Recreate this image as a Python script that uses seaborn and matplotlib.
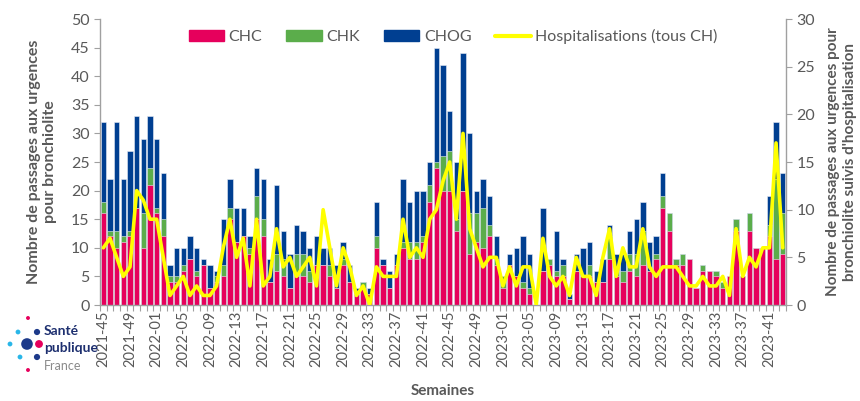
import numpy as np
import pandas as pd
import matplotlib
matplotlib.use("Agg")
import matplotlib.pyplot as plt
import seaborn as sns
from matplotlib.patches import Patch
from matplotlib.lines import Line2D
from matplotlib.ticker import FixedLocator

# semaines 2021-45 -> 2023-43
weeks = ([f"2021-{w:02d}" for w in range(45, 53)]
         + [f"2022-{w:02d}" for w in range(1, 53)]
         + [f"2023-{w:02d}" for w in range(1, 44)])

chc = [16, 12, 10, 11, 12, 17, 10, 21, 16, 12,
       4, 4, 6, 8, 5, 7, 3, 4, 5, 15,
       11, 12, 9, 15, 12, 4, 6, 5, 3, 5,
       5, 4, 7, 7, 5, 3, 7, 4, 2, 3,
       2, 10, 7, 3, 7, 10, 8, 8, 11, 18,
       24, 20, 20, 13, 20, 9, 11, 10, 12, 7,
       3, 7, 5, 3, 2, 0, 6, 7, 5, 5,
       1, 6, 5, 5, 4, 4, 8, 5, 4, 6,
       5, 7, 6, 8, 17, 13, 7, 7, 8, 3,
       6, 6, 5, 3, 5, 13, 5, 13, 10, 10,
       12, 8, 9]
chk = [2, 1, 3, 1, 1, 0, 6, 3, 1, 3,
       1, 1, 1, 0, 1, 0, 0, 1, 2, 2,
       0, 0, 1, 4, 3, 0, 3, 3, 0, 4,
       4, 2, 0, 0, 2, 0, 1, 0, 0, 1,
       0, 2, 0, 0, 0, 1, 3, 3, 1, 3,
       1, 6, 7, 2, 0, 7, 5, 7, 2, 1,
       2, 0, 0, 1, 1, 0, 0, 1, 1, 2,
       0, 0, 0, 2, 0, 0, 4, 1, 2, 3,
       4, 6, 0, 1, 2, 3, 1, 2, 0, 0,
       1, 0, 1, 1, 0, 2, 0, 3, 0, 0,
       2, 14, 7]
chog = [14, 9, 19, 10, 14, 16, 13, 9, 12, 8,
        2, 5, 3, 4, 4, 1, 4, 1, 8, 5,
        6, 5, 2, 5, 7, 4, 12, 5, 6, 5,
        4, 4, 5, 3, 3, 4, 3, 3, 1, 0,
        1, 6, 1, 3, 2, 11, 7, 9, 8, 4,
        20, 16, 7, 10, 24, 14, 4, 5, 5, 4,
        0, 2, 5, 8, 6, 0, 11, 0, 7, 1,
        1, 3, 5, 4, 2, 4, 2, 3, 3, 4,
        6, 5, 5, 3, 4, 0, 0, 0, 0, 0,
        0, 0, 0, 0, 0, 0, 0, 0, 0, 0,
        5, 10, 7]
hosp = [6, 7, 5, 3, 4, 12, 11, 9, 9, 5,
        1, 2, 3, 1, 2, 1, 1, 2, 6, 9,
        5, 7, 2, 9, 2, 3, 8, 4, 5, 3,
        4, 5, 2, 10, 6, 2, 6, 4, 1, 2,
        0, 4, 3, 3, 3, 9, 5, 6, 5, 9,
        10, 13, 15, 9, 18, 8, 6, 4, 5, 5,
        2, 4, 2, 4, 4, 0, 7, 3, 2, 3,
        1, 5, 3, 3, 1, 5, 8, 3, 6, 4,
        4, 8, 4, 3, 4, 4, 4, 3, 2, 2,
        3, 2, 2, 3, 1, 8, 3, 5, 4, 6,
        6, 17, 6]

df = pd.DataFrame({"semaine": weeks, "CHC": chc, "CHK": chk, "CHOG": chog, "hosp": hosp})
df["chc_chk"] = df["CHC"] + df["CHK"]
df["total"] = df["chc_chk"] + df["CHOG"]

pink = "#E6005C"
green = "#5BAD4B"
blue = "#003F91"
yellow = "#FFFF00"
grey_txt = "#595959"
grey_ax = "#A0A0A0"

sns.set_style("white")
plt.rcParams['font.family'] = ['Lato', 'DejaVu Sans']

fig, ax = plt.subplots(figsize=(8.6, 4.01), dpi=100)
fig.subplots_adjust(left=0.1163, right=0.914, bottom=0.2394, top=0.9526)

# stacked look by layering cumulative bars
for col, c in [("total", blue), ("chc_chk", green), ("CHC", pink)]:
    sns.barplot(data=df, x="semaine", y=col, color=c, saturation=1, width=0.8,
                errorbar=None, ax=ax, edgecolor="#E8ECF4", linewidth=0.4)

ax2 = ax.twinx()
sns.lineplot(x=np.arange(len(weeks)), y=hosp, ax=ax2, color=yellow, linewidth=2.6)

ax.set_xlim(-0.5, len(weeks) - 0.5)
ax2.set_xlim(-0.5, len(weeks) - 0.5)
ax.set_ylim(0, 50)
ax2.set_ylim(0, 30)
ax.set_yticks(range(0, 51, 5))
ax2.set_yticks(range(0, 31, 5))

ax.set_xticks(range(0, len(weeks), 4))
ax.set_xticklabels(weeks[::4], rotation=90)
ax.xaxis.set_minor_locator(FixedLocator(np.arange(-0.5, len(weeks), 1)))
ax.tick_params(axis="x", which="major", length=0, pad=4, labelsize=10.5, labelcolor=grey_txt)
ax.tick_params(axis="x", which="minor", length=4, width=0.8, color=grey_ax, bottom=True)
ax.tick_params(axis="y", length=4, width=0.8, color=grey_ax, labelsize=11.5, labelcolor=grey_txt, left=True)
ax2.tick_params(axis="y", length=4, width=0.8, color=grey_ax, labelsize=11.5, labelcolor=grey_txt, right=True)

for a in (ax, ax2):
    a.spines["top"].set_visible(False)
    for s in a.spines.values():
        s.set_color(grey_ax)
        s.set_linewidth(1)
ax2.spines["left"].set_visible(False)
ax2.spines["bottom"].set_visible(False)
ax.spines["right"].set_visible(False)

ax.set_ylabel("Nombre de passages aux urgences\npour bronchiolite", fontsize=11.5,
              fontweight="bold", color=grey_txt, labelpad=10)
ax2.set_ylabel("Nombre de passages aux urgences pour\nbronchiolite suivis d'hospitalisation",
               fontsize=11, fontweight="bold", color=grey_txt, labelpad=8)
ax.set_xlabel("Semaines", fontsize=11, fontweight="bold", color=grey_txt)
ax.xaxis.set_label_coords(0.5, -0.275)

handles = [Patch(color=pink), Patch(color=green), Patch(color=blue),
           Line2D([], [], color=yellow, linewidth=3)]
fig.legend(handles, ["CHC", "CHK", "CHOG", "Hospitalisations (tous CH)"],
           loc="center", bbox_to_anchor=(0.527, 0.908), ncol=4, frameon=False,
           fontsize=11.5, labelcolor=grey_txt, handlelength=2.2, handletextpad=0.3,
           columnspacing=1.5)

# logo Santé publique France
logo = fig.add_axes([0, 0, 1, 1], zorder=-1)
logo.set_xlim(0, 860)
logo.set_ylim(401, 0)
logo.axis("off")
logo.scatter([27, 39, 10, 37, 37, 18, 20, 28, 28],
             [344, 344, 344, 332, 357, 332, 357, 318, 370],
             s=[70, 32, 12, 20, 20, 12, 12, 8, 8],
             c=["#1D3A8A", pink, "#29B6E8", "#1D3A8A", "#1D3A8A",
                "#29B6E8", "#29B6E8", pink, pink], linewidths=0)
fig.text(44 / 860, 1 - 331 / 401, "Santé", fontsize=10, fontweight="bold",
         color="#1D2F6F", va="center")
fig.text(44 / 860, 1 - 348 / 401, "publique", fontsize=10, fontweight="bold",
         color="#1D2F6F", va="center")
fig.text(44 / 860, 1 - 366 / 401, "France", fontsize=9, color="#8A8A8A", va="center")

fig.savefig("out.png", dpi=100)
